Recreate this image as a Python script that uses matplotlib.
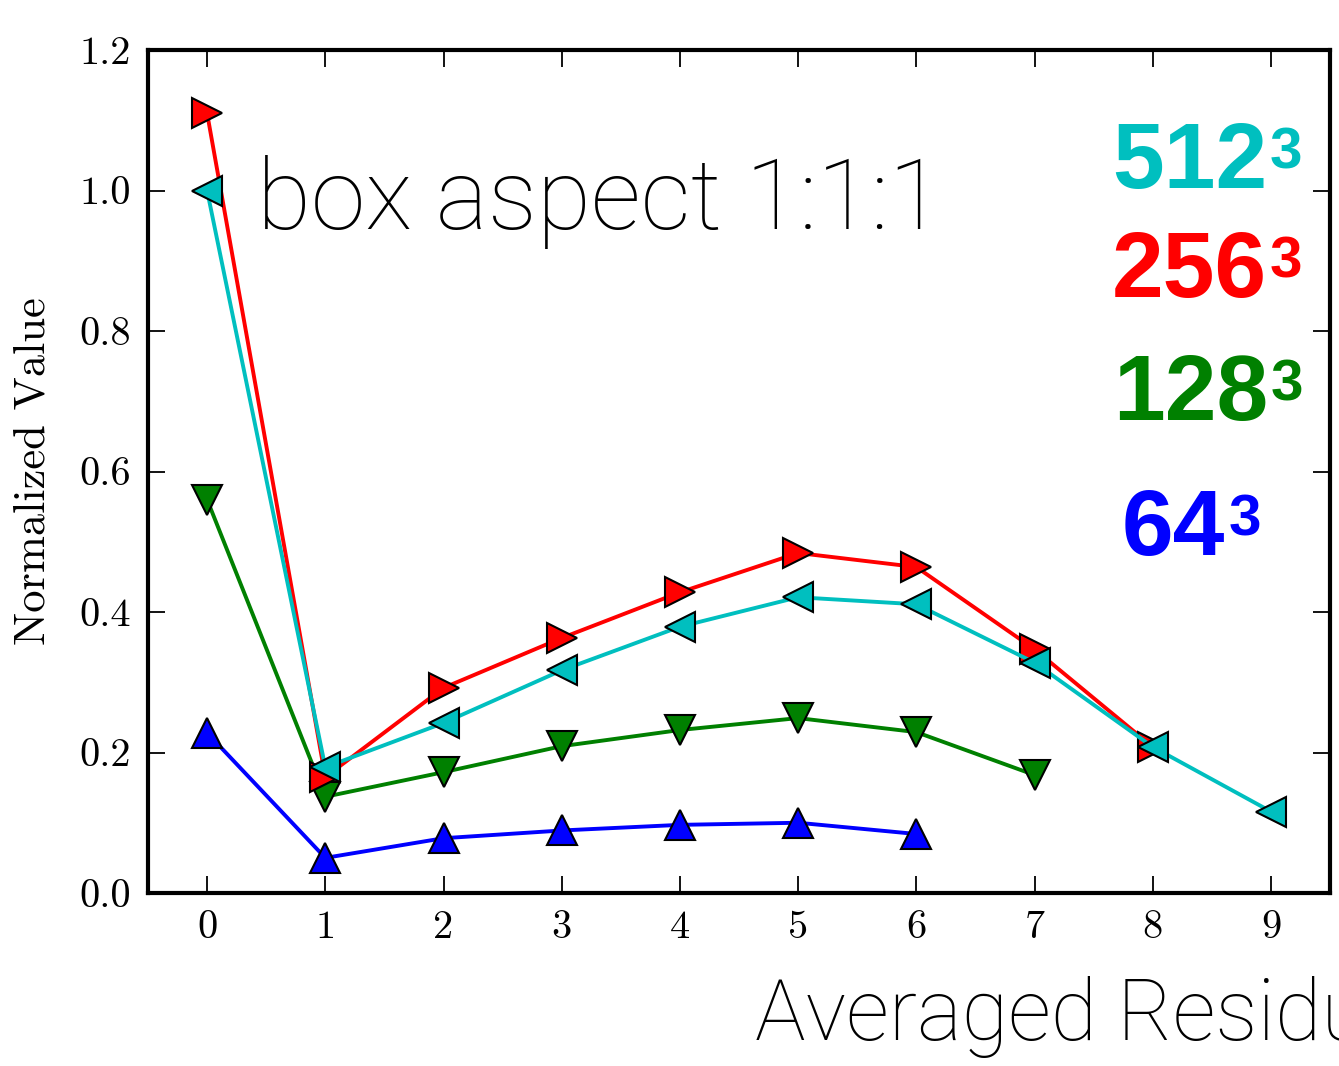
import matplotlib
matplotlib.use("Agg")
import matplotlib.pyplot as plt
from matplotlib.ticker import FixedLocator

# Averaged residual index on the x axis
steps_512 = [0, 1, 2, 3, 4, 5, 6, 7, 8, 9]
steps_256 = [0, 1, 2, 3, 4, 5, 6, 7, 8]
steps_128 = [0, 1, 2, 3, 4, 5, 6, 7]
steps_64 = [0, 1, 2, 3, 4, 5, 6]

# Normalized values per grid resolution
vals_512 = [1.000, 0.179, 0.242, 0.317, 0.379, 0.421, 0.411, 0.328, 0.208, 0.116]
vals_256 = [1.110, 0.165, 0.292, 0.363, 0.428, 0.484, 0.464, 0.347, 0.208]
vals_128 = [0.560, 0.137, 0.172, 0.209, 0.232, 0.249, 0.229, 0.168]
vals_64 = [0.228, 0.050, 0.078, 0.089, 0.097, 0.100, 0.084]

grid_labels = ["512", "256", "128", "64"]
xticks = [0, 1, 2, 3, 4, 5, 6, 7, 8, 9]
yticks = [0.0, 0.2, 0.4, 0.6, 0.8, 1.0, 1.2]

W, H = 1339, 1066
fig = plt.figure(figsize=(W / 100, H / 100), dpi=100)
ax = fig.add_axes([148 / W, 1 - 893 / H, (1330 - 148) / W, (893 - 50) / H])

line_kw = dict(lw=2.8, markersize=21, markeredgecolor="black", markeredgewidth=1.5)
ax.plot(steps_64, vals_64, color="b", marker="^", **line_kw)
ax.plot(steps_128, vals_128, color="g", marker="v", **line_kw)
ax.plot(steps_256, vals_256, color="r", marker=">", **line_kw)
ax.plot(steps_512, vals_512, color="c", marker="<", **line_kw)

ax.set_xlim(-0.5, 9.5)
ax.set_ylim(0.0, 1.2)
ax.xaxis.set_major_locator(FixedLocator(xticks))
ax.yaxis.set_major_locator(FixedLocator(yticks))
ax.set_xticklabels([f"{t:d}" for t in xticks], family="cmr10", fontsize=29)
ax.set_yticklabels([f"{t:.1f}" for t in yticks], family="cmr10", fontsize=29)
ax.tick_params(direction="in", length=12, width=1.3, top=True, right=True, pad=12)
for s in ax.spines.values():
    s.set_linewidth(3)

ax.set_ylabel("Normalized Value", family="cmr10", fontsize=32)
ax.yaxis.set_label_coords(-0.08, 0.5)

ax.text(0.092, 0.788, "box aspect 1:1:1", transform=ax.transAxes,
        family="Roboto", fontweight="light", fontsize=71, va="baseline")

fig.text(755 / W, 1 - 1040 / H, "Averaged Residual", family="Roboto",
         fontweight="light", fontsize=61, va="baseline", ha="left")

# Resolution labels with superscript cube
label_pos = [(1112, 188, "c"), (1112, 297, "r"), (1113, 420, "g"), (1122, 555, "b")]
for name, (px, py, col) in zip(grid_labels, label_pos):
    t = fig.text(px / W, 1 - py / H, name, color=col, family="Liberation Sans",
                 fontweight="bold", fontsize=67, va="baseline", ha="left")
    ax.annotate("3", xy=(1.0, 1.0), xycoords=t, xytext=(2, -4), textcoords="offset points",
                color=col, family="Liberation Sans", fontweight="bold", fontsize=42,
                va="top", ha="left", annotation_clip=False)

fig.savefig("out.png", dpi=100)
